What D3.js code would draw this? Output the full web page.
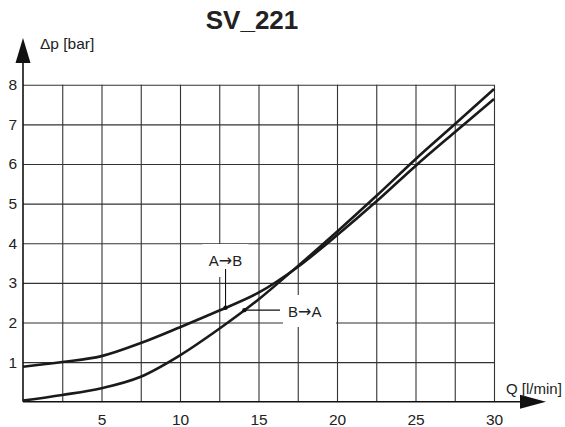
<!DOCTYPE html>
<html>
<head>
<meta charset="utf-8">
<script src="https://cdn.jsdelivr.net/npm/d3@7"></script>
<style>
	body { margin: 0; background: #fff; }
	svg { font-family: "Liberation Sans", Arial, sans-serif; }
</style>
</head>
<body>
<div id="chart"></div>
<script>
var title = "SV_221";
var flow = [0, 2.5, 5, 7.5, 10, 12.5, 15, 17.5, 20, 22.5, 25, 27.5, 30];
var dp_ab = [0.88, 1.0, 1.15, 1.48, 1.88, 2.3, 2.75, 3.4, 4.2, 5.05, 5.95, 6.8, 7.64];
var dp_ba = [0.03, 0.17, 0.34, 0.63, 1.17, 1.84, 2.58, 3.42, 4.29, 5.19, 6.12, 7.0, 7.89];
var x_ticks = [5, 10, 15, 20, 25, 30];
var y_ticks = [1, 2, 3, 4, 5, 6, 7, 8];
var x_grid = [2.5, 5, 7.5, 10, 12.5, 15, 17.5, 20, 22.5, 25, 27.5, 30];
var notes = [
	{from: "A", to: "B", q: 12.9, dp: 2.37},
	{from: "B", to: "A", q: 14.1, dp: 2.31}
];

var W = 565, H = 427;
var svg = d3.select("#chart").append("svg")
	.attr("width", W)
	.attr("height", H);

var x = d3.scaleLinear().domain([0, 30]).range([23, 494]);
var y = d3.scaleLinear().domain([0, 8]).range([401.7, 84.7]);

// grid
svg.append("g")
	.attr("transform", "translate(0," + y(0) + ")")
	.call(d3.axisBottom(x).tickValues(x_grid).tickSize(-(y(0) - y(8))).tickFormat(""))
	.call(function(g) {
		g.select(".domain").remove();
		g.selectAll("line").attr("stroke", "#333").attr("stroke-width", 1.1);
	});
svg.append("g")
	.attr("transform", "translate(" + x(0) + ",0)")
	.call(d3.axisLeft(y).tickValues(y_ticks).tickSize(-(x(30) - x(0))).tickFormat(""))
	.call(function(g) {
		g.select(".domain").remove();
		g.selectAll("line").attr("stroke", "#333").attr("stroke-width", 1.1);
	});

// tick labels
svg.append("g")
	.attr("transform", "translate(0," + y(0) + ")")
	.call(d3.axisBottom(x).tickValues(x_ticks).tickSize(0).tickPadding(12))
	.call(function(g) {
		g.select(".domain").remove();
		g.selectAll("text").attr("font-size", 15.5).attr("fill", "#222")
			.attr("font-family", "Liberation Sans, Arial, sans-serif");
	});
svg.append("g")
	.attr("transform", "translate(17,0)")
	.call(d3.axisLeft(y).tickValues(y_ticks).tickSize(0).tickPadding(0))
	.call(function(g) {
		g.select(".domain").remove();
		g.selectAll("text").attr("font-size", 15.5).attr("fill", "#222")
			.attr("font-family", "Liberation Sans, Arial, sans-serif");
	});

// axes with arrows
svg.append("line")
	.attr("x1", x(0)).attr("y1", y(0))
	.attr("x2", x(0)).attr("y2", 60)
	.attr("stroke", "#111").attr("stroke-width", 1.6);
svg.append("path")
	.attr("d", "M" + x(0) + ",38 L" + (x(0) - 7.5) + ",63 L" + (x(0) + 7.5) + ",63 Z")
	.attr("fill", "#111");
svg.append("line")
	.attr("x1", x(0)).attr("y1", y(0))
	.attr("x2", 522).attr("y2", y(0))
	.attr("stroke", "#111").attr("stroke-width", 1.6);
svg.append("path")
	.attr("d", "M546," + y(0) + " L520," + (y(0) - 7) + " L520," + (y(0) + 7) + " Z")
	.attr("fill", "#111");

// curves
var line = d3.line()
	.x(function(d) { return x(d[0]); })
	.y(function(d) { return y(d[1]); })
	.curve(d3.curveMonotoneX);

[dp_ab, dp_ba].forEach(function(s) {
	svg.append("path")
		.datum(flow.map(function(q, i) { return [q, s[i]]; }))
		.attr("d", line)
		.attr("fill", "none")
		.attr("stroke", "#1a1a1a")
		.attr("stroke-width", 2.6);
});

function arrow_label(t, n) {
	t.append("tspan").text(n.from);
	t.append("tspan")
		.attr("font-family", "DejaVu Sans, sans-serif")
		.attr("font-size", 16)
		.text("\u2192");
	t.append("tspan").text(n.to);
}

// annotations
var a = notes[0];
svg.append("rect")
	.attr("x", x(a.q) - 23).attr("y", 244)
	.attr("width", 46).attr("height", 33)
	.attr("fill", "#fff");
svg.append("text")
	.attr("x", x(a.q)).attr("y", 266)
	.attr("text-anchor", "middle")
	.attr("font-size", 15).attr("fill", "#222")
	.call(arrow_label, a);
svg.append("line")
	.attr("x1", x(a.q)).attr("y1", 269)
	.attr("x2", x(a.q)).attr("y2", y(a.dp))
	.attr("stroke", "#111").attr("stroke-width", 1.1);
svg.append("circle")
	.attr("cx", x(a.q)).attr("cy", y(a.dp)).attr("r", 2.2)
	.attr("fill", "#111");

var b = notes[1];
svg.append("rect")
	.attr("x", 283).attr("y", 295)
	.attr("width", 53).attr("height", 32)
	.attr("fill", "#fff");
svg.append("text")
	.attr("x", 288).attr("y", 316.5)
	.attr("font-size", 15).attr("fill", "#222")
	.call(arrow_label, b);
svg.append("line")
	.attr("x1", x(b.q)).attr("y1", y(b.dp))
	.attr("x2", 280).attr("y2", y(b.dp))
	.attr("stroke", "#111").attr("stroke-width", 1.1);
svg.append("circle")
	.attr("cx", x(b.q)).attr("cy", y(b.dp)).attr("r", 2.2)
	.attr("fill", "#111");

// labels
svg.append("text")
	.attr("x", 252).attr("y", 29)
	.attr("text-anchor", "middle")
	.attr("font-size", 26).attr("font-weight", "bold").attr("fill", "#222")
	.text(title);
svg.append("text")
	.attr("x", 40).attr("y", 49)
	.attr("font-size", 15.5).attr("fill", "#222")
	.text("\u0394p [bar]");
svg.append("text")
	.attr("x", 506).attr("y", 394)
	.attr("font-size", 15).attr("fill", "#222")
	.text("Q [l/min]");
</script>
</body>
</html>
